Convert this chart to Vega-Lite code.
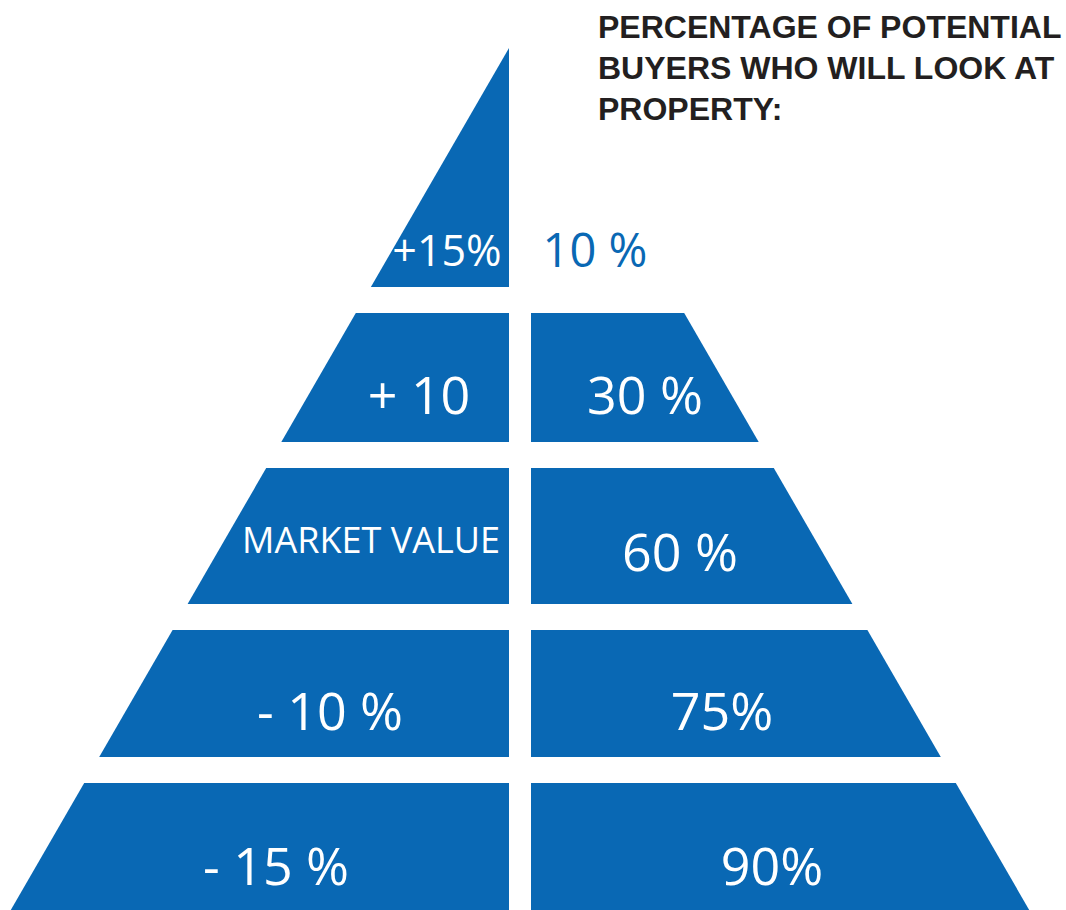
{
  "$schema": "https://vega.github.io/schema/vega-lite/v6.json",
  "width": 1066,
  "height": 910,
  "padding": 0,
  "autosize": {"type": "fit", "contains": "padding"},
  "background": "#ffffff",
  "config": {"view": {"stroke": null}},
  "datasets": {
    "shapes": [
      {"piece": "L1-left", "y": 48, "xa": 509, "xb": 509},
      {"piece": "L1-left", "y": 287, "xa": 370.9, "xb": 509},
      {"piece": "L2-left", "y": 313, "xa": 355.8, "xb": 509},
      {"piece": "L2-left", "y": 442, "xa": 281.3, "xb": 509},
      {"piece": "L2-right", "y": 313, "xa": 531, "xb": 684.2},
      {"piece": "L2-right", "y": 442, "xa": 531, "xb": 758.7},
      {"piece": "L3-left", "y": 468, "xa": 266.2, "xb": 509},
      {"piece": "L3-left", "y": 604, "xa": 187.6, "xb": 509},
      {"piece": "L3-right", "y": 468, "xa": 531, "xb": 773.8},
      {"piece": "L3-right", "y": 604, "xa": 531, "xb": 852.4},
      {"piece": "L4-left", "y": 630, "xa": 172.6, "xb": 509},
      {"piece": "L4-left", "y": 757, "xa": 99.2, "xb": 509},
      {"piece": "L4-right", "y": 630, "xa": 531, "xb": 867.4},
      {"piece": "L4-right", "y": 757, "xa": 531, "xb": 940.8},
      {"piece": "L5-left", "y": 783, "xa": 84.2, "xb": 509},
      {"piece": "L5-left", "y": 910, "xa": 10.8, "xb": 509},
      {"piece": "L5-right", "y": 783, "xa": 531, "xb": 955.8},
      {"piece": "L5-right", "y": 910, "xa": 531, "xb": 1029.2}
    ],
    "labels": [
      {"label": "+15%", "x": 447, "y": 266, "group": "top"},
      {"label": "10 %", "x": 595, "y": 267, "group": "outside"},
      {"label": "+ 10", "x": 419, "y": 414, "group": "big"},
      {"label": "30 %", "x": 645, "y": 414, "group": "big"},
      {"label": "MARKET VALUE", "x": 371, "y": 553, "group": "small"},
      {"label": "60 %", "x": 680, "y": 571, "group": "big"},
      {"label": "- 10 %", "x": 330, "y": 730, "group": "big"},
      {"label": "75%", "x": 722, "y": 730, "group": "big"},
      {"label": "- 15 %", "x": 276, "y": 885, "group": "big"},
      {"label": "90%", "x": 772, "y": 885, "group": "big"}
    ],
    "title": [
      {"line": "PERCENTAGE OF POTENTIAL", "x": 598, "y": 38},
      {"line": "BUYERS WHO WILL LOOK AT", "x": 598, "y": 79},
      {"line": "PROPERTY:", "x": 598, "y": 120}
    ]
  },
  "layer": [
    {
      "data": {"name": "shapes"},
      "mark": {"type": "area", "orient": "horizontal", "color": "#0968B4", "interpolate": "linear"},
      "encoding": {
        "y": {"field": "y", "type": "quantitative", "scale": {"domain": [0, 910], "reverse": true, "nice": false, "zero": false}, "axis": null},
        "x": {"field": "xa", "type": "quantitative", "scale": {"domain": [0, 1066], "nice": false, "zero": false}, "axis": null, "stack": null},
        "x2": {"field": "xb"},
        "detail": {"field": "piece", "type": "nominal"}
      }
    },
    {
      "data": {"name": "labels"},
      "transform": [{"filter": "datum.group === 'top'"}],
      "mark": {"type": "text", "font": "Open Sans", "fontSize": 43, "align": "center", "baseline": "alphabetic", "color": "#ffffff"},
      "encoding": {
        "x": {"field": "x", "type": "quantitative"},
        "y": {"field": "y", "type": "quantitative"},
        "text": {"field": "label"}
      }
    },
    {
      "data": {"name": "labels"},
      "transform": [{"filter": "datum.group === 'outside'"}],
      "mark": {"type": "text", "font": "Open Sans", "fontSize": 47, "align": "center", "baseline": "alphabetic", "color": "#0968B4"},
      "encoding": {
        "x": {"field": "x", "type": "quantitative"},
        "y": {"field": "y", "type": "quantitative"},
        "text": {"field": "label"}
      }
    },
    {
      "data": {"name": "labels"},
      "transform": [{"filter": "datum.group === 'big'"}],
      "mark": {"type": "text", "font": "Open Sans", "fontSize": 52, "align": "center", "baseline": "alphabetic", "color": "#ffffff"},
      "encoding": {
        "x": {"field": "x", "type": "quantitative"},
        "y": {"field": "y", "type": "quantitative"},
        "text": {"field": "label"}
      }
    },
    {
      "data": {"name": "labels"},
      "transform": [{"filter": "datum.group === 'small'"}],
      "mark": {"type": "text", "font": "Open Sans", "fontSize": 36, "align": "center", "baseline": "alphabetic", "color": "#ffffff"},
      "encoding": {
        "x": {"field": "x", "type": "quantitative"},
        "y": {"field": "y", "type": "quantitative"},
        "text": {"field": "label"}
      }
    },
    {
      "data": {"name": "title"},
      "mark": {"type": "text", "font": "Liberation Sans", "fontWeight": "bold", "fontSize": 32, "align": "left", "baseline": "alphabetic", "color": "#231F20"},
      "encoding": {
        "x": {"field": "x", "type": "quantitative"},
        "y": {"field": "y", "type": "quantitative"},
        "text": {"field": "line"}
      }
    }
  ]
}
